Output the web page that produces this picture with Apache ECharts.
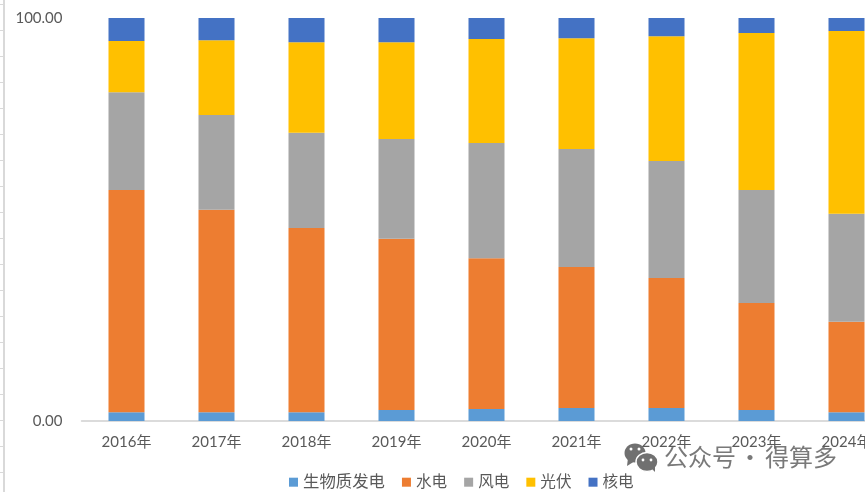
<!DOCTYPE html>
<html>
<head>
<meta charset="utf-8">
<style>
html,body{margin:0;padding:0;background:#fff;}
#chart{width:865px;height:492px;}
</style>
<script src="https://cdn.jsdelivr.net/npm/echarts@6/dist/echarts.min.js"></script>
</head>
<body>
<div id="chart"></div>
<script>
// Share of generation by source, percent of the yearly total
const years = ['2016年','2017年','2018年','2019年','2020年','2021年','2022年','2023年','2024年'];
const biomass = [2.2, 2.2, 2.2, 2.7, 3.0, 3.2, 3.2, 2.7, 2.2];
const hydro   = [55.1, 50.2, 45.7, 42.5, 37.4, 35.0, 32.3, 26.6, 22.4];
const wind    = [24.3, 23.5, 23.6, 24.8, 28.6, 29.3, 29.0, 28.0, 26.8];
const solar   = [12.7, 18.6, 22.5, 24.0, 25.8, 27.5, 31.0, 39.0, 45.4];
const nuclear = [5.7, 5.5, 6.0, 6.0, 5.2, 5.0, 4.5, 3.7, 3.2];
const axisTicks = [0, 100];

const textFont = 'Lato, "Noto Sans CJK SC", sans-serif';
const textColor = '#595959';

const makeSeries = (name, data, color) => ({
  name, data, type: 'bar', stack: 'share', barWidth: 36,
  itemStyle: { color }
});

// Stray axis strip along the left edge
const edgeMarks = [{
  type: 'line', silent: true,
  shape: { x1: 4, y1: 0, x2: 4, y2: 492 },
  style: { stroke: '#d9d9d9', lineWidth: 2 }
}];
for (let y = 4; y < 492; y += 26) {
  edgeMarks.push({
    type: 'line', silent: true,
    shape: { x1: 0, y1: y + 0.5, x2: 4, y2: y + 0.5 },
    style: { stroke: '#d9d9d9', lineWidth: 1 }
  });
}

// Account badge: two chat bubbles and the account name
const ink = '#707070';
const nameStyle = { fill: '#666', opacity: 0.88, font: '24px "Noto Sans CJK SC", sans-serif', textVerticalAlign: 'middle' };
const badge = [
  { type: 'ellipse', silent: true, shape: { cx: 635, cy: 453, rx: 10.5, ry: 9.5 }, style: { fill: ink } },
  { type: 'polygon', silent: true, shape: { points: [[628, 458], [627, 466], [635, 461]] }, style: { fill: ink } },
  { type: 'ellipse', silent: true, shape: { cx: 647, cy: 462, rx: 11, ry: 9.5 }, style: { fill: ink, stroke: '#fff', lineWidth: 1.5 } },
  { type: 'polygon', silent: true, shape: { points: [[651, 468], [655, 472], [655, 465]] }, style: { fill: ink } },
  { type: 'circle', silent: true, shape: { cx: 631, cy: 449, r: 1.5 }, style: { fill: '#fff' } },
  { type: 'circle', silent: true, shape: { cx: 639, cy: 449, r: 1.5 }, style: { fill: '#fff' } },
  { type: 'circle', silent: true, shape: { cx: 643, cy: 460, r: 1.4 }, style: { fill: '#fff' } },
  { type: 'circle', silent: true, shape: { cx: 651, cy: 460, r: 1.4 }, style: { fill: '#fff' } },
  { type: 'text', silent: true, x: 664, y: 457, style: Object.assign({ text: '公众号' }, nameStyle) },
  { type: 'text', silent: true, x: 738, y: 457, style: Object.assign({ text: '·' }, nameStyle) },
  { type: 'text', silent: true, x: 765, y: 457, style: Object.assign({ text: '得算多' }, nameStyle) }
];

const legendItem = (name, fontSize) => ({ name, textStyle: { fontSize } });

const chart = echarts.init(document.getElementById('chart'), null, { renderer: 'canvas' });
chart.setOption({
  animation: false,
  backgroundColor: '#fff',
  color: ['#5B9BD5', '#ED7D31', '#A5A5A5', '#FFC000', '#4472C4'],
  grid: { left: 81.5, top: 18, width: 810, height: 403, outerBoundsMode: 'none' },
  legend: {
    left: 289, top: 474, padding: 0, itemWidth: 9, itemHeight: 9, itemGap: 17, icon: 'rect',
    textStyle: { fontSize: 15.6, color: textColor, fontFamily: textFont },
    data: [legendItem('生物质发电', 16.4), legendItem('水电', 15.6), legendItem('风电', 15.6),
           legendItem('光伏', 15.6), legendItem('核电', 15.6)]
  },
  xAxis: {
    type: 'category', data: years,
    axisTick: { show: false },
    axisLine: { lineStyle: { color: '#d0d0d0', width: 1.5 } },
    axisLabel: { fontSize: 15, color: textColor, fontFamily: textFont, margin: 14, interval: 0, hideOverlap: false }
  },
  yAxis: {
    type: 'value', min: axisTicks[0], max: axisTicks[1], interval: axisTicks[1],
    axisLine: { show: false }, axisTick: { show: false }, splitLine: { show: false },
    axisLabel: { fontSize: 15, color: textColor, fontFamily: textFont, margin: 19,
                 formatter: v => v.toFixed(2) }
  },
  series: [
    makeSeries('生物质发电', biomass, '#5B9BD5'),
    makeSeries('水电', hydro, '#ED7D31'),
    makeSeries('风电', wind, '#A5A5A5'),
    makeSeries('光伏', solar, '#FFC000'),
    makeSeries('核电', nuclear, '#4472C4')
  ],
  graphic: { elements: edgeMarks.concat(badge) }
});
</script>
</body>
</html>
